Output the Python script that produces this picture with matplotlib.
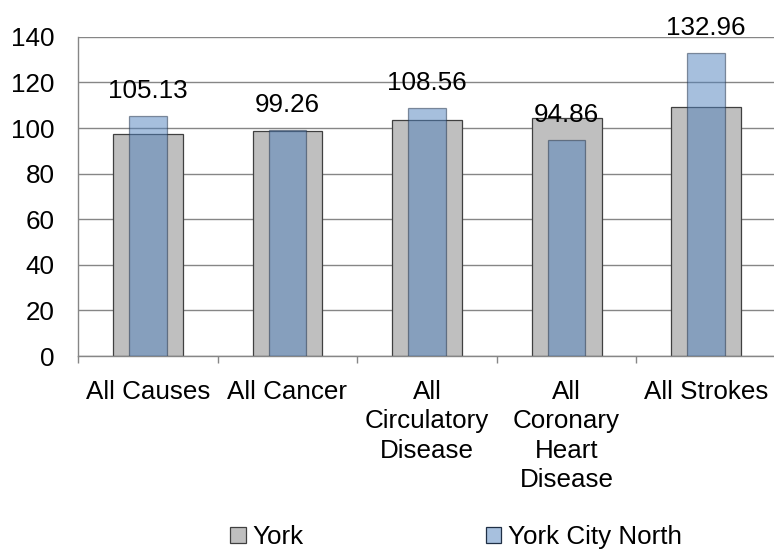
import numpy as np
import matplotlib.pyplot as plt
from matplotlib.patches import Patch

plt.rcParams['font.family'] = ['Liberation Sans', 'DejaVu Sans']

# data
categories = ['All Causes', 'All Cancer', 'All\nCirculatory\nDisease',
              'All\nCoronary\nHeart\nDisease', 'All Strokes']
york = [97.4, 98.9, 103.7, 104.3, 109.1]
york_city_north = [105.13, 99.26, 108.56, 94.86, 132.96]
north_labels = ['105.13', '99.26', '108.56', '94.86', '132.96']

color_grey = '#bfbfbf'
color_blue = '#4f81bd'
color_edge = '#404040'
color_axis = '#868686'
fs = 18.7

fig = plt.figure(figsize=(7.74, 5.51), dpi=100)
ax = fig.add_axes([78 / 774, 195 / 551, 698 / 774, 319.2 / 551])

x = np.arange(len(categories))
ax.bar(x, york, width=0.5, color=color_grey, edgecolor=color_edge,
       linewidth=0.9, zorder=2, label='York')
ax.bar(x, york_city_north, width=0.27, color=color_blue, alpha=0.5,
       edgecolor='#1f2f45', linewidth=0.9, zorder=3, label='York City North')

for xi, val, lab in zip(x, york_city_north, north_labels):
    ax.annotate(lab, (xi, val), xytext=(0, 13), textcoords='offset points',
                ha='center', va='baseline', fontsize=fs, color='black', zorder=4)

ax.set_ylim(0, 140)
ax.set_yticks(range(0, 141, 20))
ax.set_xlim(-0.5, len(categories) - 0.5)
ax.set_xticks(x)
ax.set_xticklabels(categories, fontsize=fs, linespacing=1.29, va='top')
ax.set_xticks(np.arange(-0.5, len(categories), 1.0), minor=True)
ax.tick_params(axis='x', which='major', length=0, pad=17)
ax.tick_params(axis='x', which='minor', length=5, width=1, color=color_axis)
ax.tick_params(axis='y', length=0, labelsize=fs, pad=17)

ax.grid(axis='y', color=color_axis, linewidth=1, zorder=0)
ax.set_axisbelow(True)
for side in ['top', 'right']:
    ax.spines[side].set_visible(False)
for side in ['left', 'bottom']:
    ax.spines[side].set_color(color_axis)
    ax.spines[side].set_linewidth(1)

handles = [Patch(facecolor=color_grey, edgecolor=color_edge, linewidth=0.9),
           Patch(facecolor='#a7c0de', edgecolor='#1f2f45', linewidth=0.9)]
fig.legend(handles, ['York', 'York City North'], loc='center left',
           bbox_to_anchor=(230 / 774, 1 - 537 / 551), ncol=2, frameon=False,
           fontsize=fs, handlelength=0.6, handleheight=0.6, handletextpad=0.27,
           columnspacing=7.0, borderaxespad=0, borderpad=0)

fig.savefig('out.png', dpi=100)
